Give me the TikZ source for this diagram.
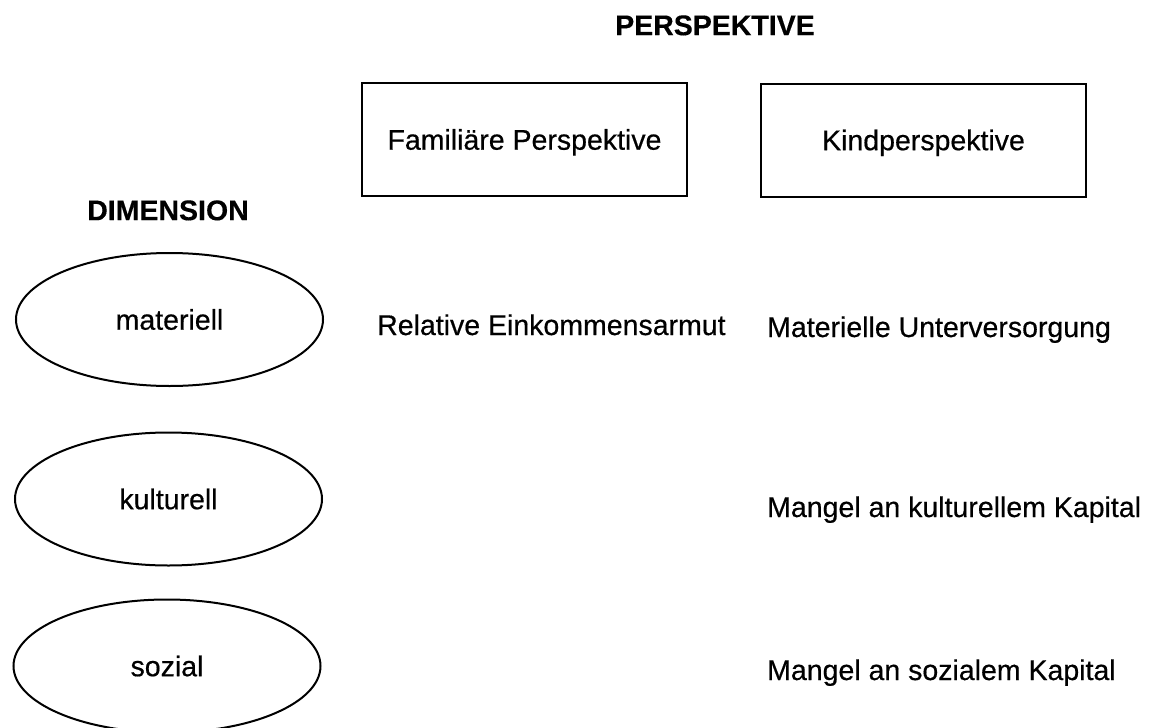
\documentclass[tikz,border=0pt]{standalone}
\usepackage{fontspec}
\setmainfont{Liberation Sans}[FakeBold=0.5, BoldFeatures={FakeBold=0.3}]
\usetikzlibrary{shapes.geometric}
\begin{document}
\begin{tikzpicture}[x=1pt,y=-1pt,
  every node/.style={font=\fontsize{28.5pt}{34pt}\selectfont, inner sep=0pt},
  capline/.style={text height=20.4pt, text depth=0pt},
  headline/.style={capline, font=\fontsize{28.5pt}{34pt}\selectfont\bfseries},
  persbox/.style={draw, line width=2pt, rectangle, minimum width=325pt, minimum height=113pt, capline},
  dimoval/.style={draw, line width=2pt, ellipse, minimum width=307pt, minimum height=133pt, capline},
  entry/.style={anchor=base west}]
\useasboundingbox (0,0) rectangle (1157,728);

% column headings
\node[headline] (perspektive) at (715,25) {PERSPEKTIVE};
\node[persbox] (familie) at (524.5,139.5) {Familiäre Perspektive};
\node[persbox] (kind) at (923.5,140) {Kindperspektive};

% row headings
\node[headline] (dimension) at (168,210) {DIMENSION};
\node[dimoval] (materiell) at (169.5,319.5) {materiell};
\node[dimoval] (kulturell) at (168.5,499) {kulturell};
\node[dimoval] (sozial) at (167,666) {sozial};

% cell entries
\node[entry] (einkommen) at (377,335) {Relative Einkommensarmut};
\node[entry] (unterversorgung) at (767,337) {Materielle Unterversorgung};
\node[entry] (kulturkapital) at (767,517) {Mangel an kulturellem Kapital};
\node[entry] (sozialkapital) at (767,680) {Mangel an sozialem Kapital};
\end{tikzpicture}
\end{document}
